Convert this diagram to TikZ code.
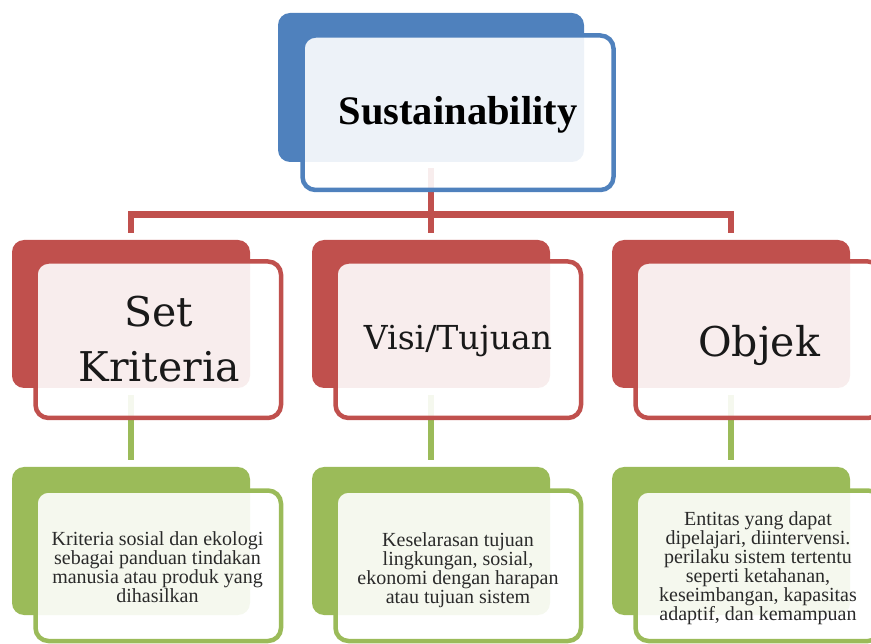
\documentclass[tikz,border=0pt]{standalone}
\usepackage{fontspec}
\setmainfont{Liberation Serif}
\newfontfamily\redfont{DejaVu Serif}
\definecolor{oblue}{HTML}{4F81BD}
\definecolor{ored}{HTML}{C0504D}
\definecolor{ogreen}{HTML}{9BBB59}
\definecolor{gtext}{HTML}{2A2A2A}
\begin{document}
\begin{tikzpicture}[x=1pt,y=-1pt,
  backbox/.style={rectangle,rounded corners=12pt,inner sep=0pt,outer sep=0pt,
    minimum width=238pt,minimum height=148pt},
  frontbox/.style={rectangle,rounded corners=13pt,inner sep=0pt,outer sep=0pt,
    fill=white,fill opacity=0.9,line width=4.5pt,
    minimum width=245.5pt,minimum height=156.5pt},
  conn/.style={line width=6.5pt},
  toptext/.style={font=\fontsize{40.5}{48}\selectfont\bfseries,text=black,anchor=base,inner sep=0pt},
  bigtext/.style={font=\redfont\fontsize{41}{48}\selectfont,text=black!90,anchor=base,inner sep=0pt},
  midtext/.style={font=\redfont\fontsize{33}{40}\selectfont,text=black!90,anchor=base,inner sep=0pt},
  smalltext/.style={font=\fontsize{20}{19}\selectfont,text=gtext,align=center,anchor=base,inner sep=0pt}
]
\useasboundingbox (0,0) rectangle (871,644);
\clip (0,0) rectangle (871,644);

\coordinate (bus) at (0,214.5);

% back boxes
\node[backbox,minimum width=306pt,minimum height=149pt,fill=oblue] (topB) at (431,87.5) {};
\node[backbox,fill=ored] (k1B) at (131,314) {};
\node[backbox,fill=ored] (k2B) at (431,314) {};
\node[backbox,fill=ored] (k3B) at (731,314) {};
\node[backbox,fill=ogreen] (g1B) at (131,541) {};
\node[backbox,fill=ogreen] (g2B) at (431,541) {};
\node[backbox,fill=ogreen] (g3B) at (731,541) {};

% connectors
\draw[conn,ored] ([yshift=-6pt]topB.south) -- ([yshift=7pt]k2B.north);
\draw[conn,ored] ([yshift=7pt]k1B.north) -- (k1B.north |- bus) -- (k3B.north |- bus) -- ([yshift=7pt]k3B.north);
\draw[conn,ogreen] ([yshift=-7pt]k1B.south) -- ([yshift=7pt]g1B.north);
\draw[conn,ogreen] ([yshift=-7pt]k2B.south) -- ([yshift=7pt]g2B.north);
\draw[conn,ogreen] ([yshift=-7pt]k3B.south) -- ([yshift=7pt]g3B.north);

% front boxes
\node[frontbox,draw=oblue,minimum width=311pt,minimum height=154.5pt] (topF) at (458,112.75) {};
\node[frontbox,draw=ored] (k1F) at (158.25,339.75) {};
\node[frontbox,draw=ored] (k2F) at (458.25,339.75) {};
\node[frontbox,draw=ored] (k3F) at (758.25,339.75) {};
\node[frontbox,draw=ogreen,minimum height=150.5pt] (g1F) at (158.25,565.75) {};
\node[frontbox,draw=ogreen,minimum height=150.5pt] (g2F) at (458.25,565.75) {};
\node[frontbox,draw=ogreen,minimum height=150.5pt] (g3F) at (758.25,565.75) {};

% texts
\node[toptext] (tTop) at (458,125) {Sustainability};
\node[bigtext] (t1a) at (159,327) {Set};
\node[bigtext] (t1b) at (159,382) {Kriteria};
\node[midtext] (t2) at (458,350) {Visi/Tujuan};
\node[bigtext] (t3) at (759,357) {Objek};
\node[smalltext] (s1) at (157.5,602) {Kriteria sosial dan ekologi\\sebagai panduan tindakan\\manusia atau produk yang\\dihasilkan};
\node[smalltext] (s2) at (458,603) {Keselarasan tujuan\\lingkungan, sosial,\\ekonomi dengan harapan\\atau tujuan sistem};
\node[smalltext] (s3) at (758,620) {Entitas yang dapat\\dipelajari, diintervensi.\\perilaku sistem tertentu\\seperti ketahanan,\\keseimbangan, kapasitas\\adaptif, dan kemampuan};
\end{tikzpicture}
\end{document}
